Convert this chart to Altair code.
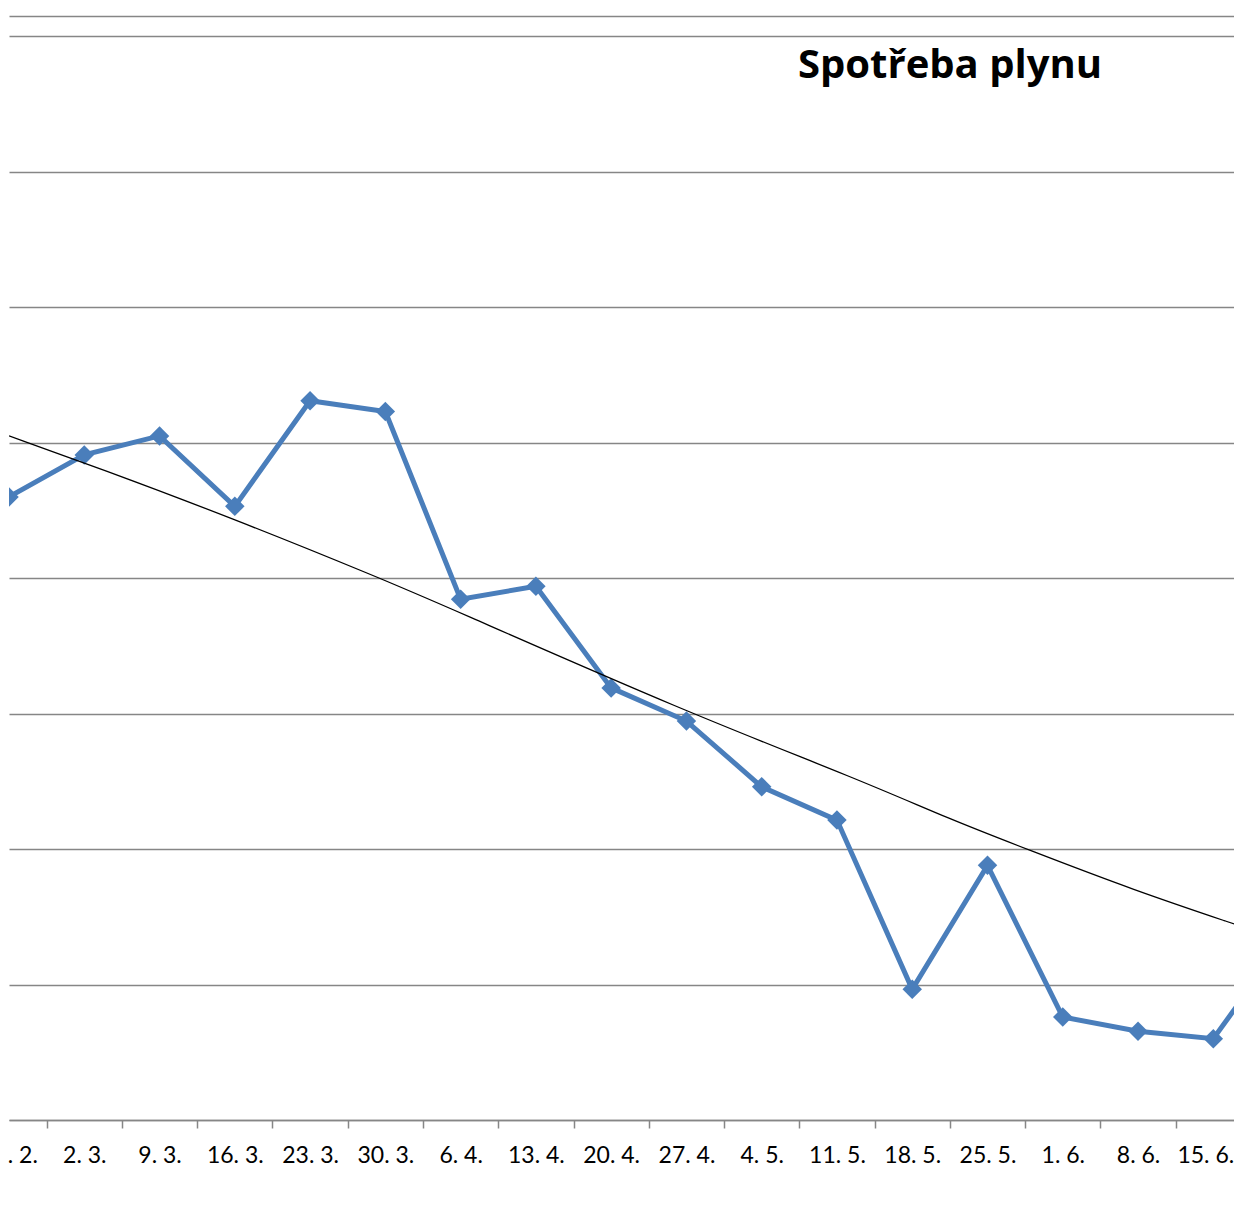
import altair as alt
import pandas as pd

# Category labels (weekly readings)
labels = ["23. 2.", "2. 3.", "9. 3.", "16. 3.", "23. 3.", "30. 3.", "6. 4.", "13. 4.",
          "20. 4.", "27. 4.", "4. 5.", "11. 5.", "18. 5.", "25. 5.", "1. 6.", "8. 6.", "15. 6.", "22. 6."]

# Gas consumption per week (last one lies just beyond the crop)
consumption = [46.0, 49.1, 50.5, 45.3, 53.1, 52.3, 38.45, 39.4, 31.9, 29.45, 24.6, 22.14,
               9.65, 18.8, 7.6, 6.55, 6.0, 13.7]

# Trend line, read at several positions along the category index
trend_i = [0.0, 1.21, 2.98, 4.93, 5.73, 9.0, 11.31, 12.5, 13.52, 14.94, 16.38, 16.5]
trend_v = [50.5, 48.1, 44.4, 40.0, 38.1, 30.1, 25.1, 22.2, 20.0, 16.97, 14.28, 14.05]

grid_values = [0, 10, 20, 30, 40, 50, 60, 70, 80, 81.5]
tick_positions = [k + 0.5 for k in range(16)]
label_positions = list(range(17))

series = pd.DataFrame({"i": list(range(len(consumption))), "v": consumption})
trend = pd.DataFrame({"i": trend_i, "v": trend_v})

xdom = [0.0, 16.275]
ydom = [0, 81.5]
GRID = "#868686"
BLUE = "#4a7ebb"
FONT = "Lato"

label_expr = "[" + ",".join("'%s'" % s for s in labels) + "][round(datum.value)]"

yscale = alt.Scale(domain=ydom, nice=False, zero=False)
yaxis = alt.Axis(values=grid_values, labels=False, ticks=False, domain=False,
                 grid=True, gridColor=GRID, gridWidth=1.6, title=None)

line = alt.Chart(series).mark_line(color=BLUE, strokeWidth=5, clip=True).encode(
    x=alt.X("i:Q", scale=alt.Scale(domain=xdom, nice=False, zero=False),
            axis=alt.Axis(orient="bottom", values=tick_positions, labels=False, ticks=True,
                          tickSize=8, tickColor=GRID, tickWidth=1.5, domain=True,
                          domainColor=GRID, domainWidth=1.6, grid=False, title=None)),
    y=alt.Y("v:Q", scale=yscale, axis=yaxis),
)

points = alt.Chart(series).mark_point(shape="diamond", filled=True, size=380, color=BLUE,
                                      opacity=1, clip=True).encode(
    x=alt.X("i:Q", scale=alt.Scale(domain=xdom, nice=False, zero=False),
            axis=alt.Axis(orient="bottom", values=label_positions, labelExpr=label_expr,
                          ticks=False, tickSize=0, domain=False, grid=False, title=None,
                          labelFlush=False, labelOverlap=False, labelFont=FONT,
                          labelFontSize=23, labelColor="black", labelBaseline="alphabetic",
                          labelPadding=42,
                          labelOffset={"condition": {"test": "datum.value >= 16", "value": -8},
                                       "value": 0})),
    y=alt.Y("v:Q", scale=yscale, axis=yaxis),
)

trendline = alt.Chart(trend).mark_line(color="black", strokeWidth=1.3, clip=True,
                                       interpolate="basis").encode(
    x=alt.X("i:Q", scale=alt.Scale(domain=xdom, nice=False, zero=False), axis=None),
    y=alt.Y("v:Q", scale=yscale, axis=yaxis),
)

chart = alt.layer(line, points, trendline).resolve_scale(x="independent").resolve_axis(
    x="independent"
).properties(
    width=1225,
    height=1104,
    autosize=alt.AutoSizeParams(type="none"),
    padding={"left": 1, "top": 8, "right": 0, "bottom": 60},
    title=alt.TitleParams("Spotřeba plynu", anchor="start", orient="top", frame="group",
                          dx=789, dy=102, offset=0, baseline="alphabetic", font="Open Sans",
                          fontSize=40, fontWeight="bold", color="black"),
    background="white",
).configure_view(strokeWidth=0)

chart.save("out.html", embed_options={"renderer": "svg", "actions": False})
